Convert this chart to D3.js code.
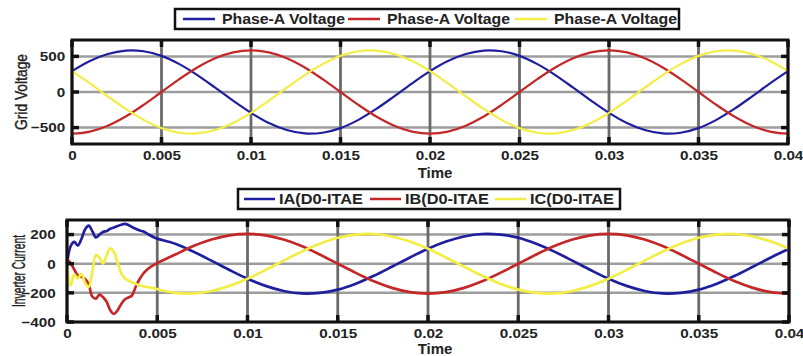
<!DOCTYPE html>
<html>
<head>
<meta charset="utf-8">
<script src="https://cdn.jsdelivr.net/npm/d3@7"></script>
<style>
  html, body { margin: 0; padding: 0; background: #fff; }
  svg { display: block; font-family: "Liberation Sans", Arial, sans-serif; }
</style>
</head>
<body>
<svg id="chart" width="803" height="356"></svg>
<script>
// ---- data ----
const xTicks = [0, 0.005, 0.01, 0.015, 0.02, 0.025, 0.03, 0.035, 0.04];
const voltageTicks = [-500, 0, 500];
const currentTicks = [-400, -200, 0, 200];

const voltageLegend = ["Phase-A Voltage", "Phase-A Voltage", "Phase-A Voltage"];
const currentLegend = ["IA(D0-ITAE", "IB(D0-ITAE", "IC(D0-ITAE"];

const voltageTime = [0, 0.001, 0.002, 0.003, 0.004, 0.005, 0.006, 0.007, 0.008, 0.009,
  0.010, 0.011, 0.012, 0.013, 0.014, 0.015, 0.016, 0.017, 0.018, 0.019,
  0.020, 0.021, 0.022, 0.023, 0.024, 0.025, 0.026, 0.027, 0.028, 0.029,
  0.030, 0.031, 0.032, 0.033, 0.034, 0.035, 0.036, 0.037, 0.038, 0.039, 0.040];

const voltageA = [293, 435, 534, 582, 572, 507, 391, 238, 61, -122,
  -293, -435, -534, -582, -572, -507, -391, -238, -61, 122,
  293, 435, 534, 582, 572, 507, 391, 238, 61, -122,
  -293, -435, -534, -582, -572, -507, -391, -238, -61, 122, 293];
const voltageB = [-585, -556, -473, -344, -181, 0, 181, 344, 473, 556,
  585, 556, 473, 344, 181, 0, -181, -344, -473, -556,
  -585, -556, -473, -344, -181, 0, 181, 344, 473, 556,
  585, 556, 473, 344, 181, 0, -181, -344, -473, -556, -585];
const voltageC = [293, 122, -61, -238, -391, -507, -572, -582, -534, -435,
  -293, -122, 61, 238, 391, 507, 572, 582, 534, 435,
  293, 122, -61, -238, -391, -507, -572, -582, -534, -435,
  -293, -122, 61, 238, 391, 507, 572, 582, 534, 435, 293];

const currentTime = [0, 0.0002, 0.0004, 0.0006, 0.0008, 0.001, 0.0012, 0.0014, 0.0016, 0.0018,
  0.002, 0.0022, 0.0024, 0.0026, 0.0028, 0.003, 0.0032, 0.0034, 0.0036, 0.0038,
  0.004, 0.0042, 0.0044, 0.0046, 0.0048, 0.005,
  0.006, 0.007, 0.008, 0.009, 0.010, 0.011, 0.012, 0.013, 0.014, 0.015,
  0.016, 0.017, 0.018, 0.019, 0.020, 0.021, 0.022, 0.023, 0.024, 0.025,
  0.026, 0.027, 0.028, 0.029, 0.030, 0.031, 0.032, 0.033, 0.034, 0.035,
  0.036, 0.037, 0.038, 0.039, 0.040];

const currentA = [0, 120, 150, 125, 170, 235, 262, 225, 180, 200,
  218, 225, 240, 248, 258, 268, 274, 266, 252, 240,
  230, 222, 210, 195, 182, 172,
  137, 83, 21, -43, -103, -152, -187, -204, -200, -178,
  -137, -83, -21, 43, 103, 152, 187, 204, 200, 178,
  137, 83, 21, -43, -103, -152, -187, -204, -200, -178,
  -137, -83, -21, 43, 103];
const currentB = [30, 5, -40, -80, -90, -105, -140, -225, -240, -212,
  -230, -262, -320, -345, -320, -278, -245, -232, -218, -160,
  -110, -72, -45, -25, -10, 5,
  63, 121, 166, 195, 205, 195, 166, 121, 63, 0,
  -63, -121, -166, -195, -205, -195, -166, -121, -63, 0,
  63, 121, 166, 195, 205, 195, 166, 121, 63, 0,
  -63, -121, -166, -195, -205];
const currentC = [0, -150, -75, -100, -70, -130, -160, -60, 60, 40,
  0, 60, 105, 80, 10, -65, -100, -115, -128, -138,
  -148, -155, -160, -164, -167, -175,
  -200, -204, -187, -152, -103, -43, 21, 83, 137, 178,
  200, 204, 187, 152, 103, 43, -21, -83, -137, -178,
  -200, -204, -187, -152, -103, -43, 21, 83, 137, 178,
  200, 204, 187, 152, 103];

const colors = ["#1f1f9e", "#c42727", "#f2ee45"];

const svg = d3.select("#chart");
const fmt = d3.format("~g");
const FONT = '"Liberation Sans", Arial, sans-serif';

function drawPanel(p) {
  const x = d3.scaleLinear().domain([0, 0.04]).range([p.left, p.right]);
  const y = d3.scaleLinear().domain(p.yDomain).range([p.bottom, p.top]);
  const g = svg.append("g");

  // grid
  g.append("g").selectAll("line").data(p.yTicks).join("line")
    .attr("x1", p.left).attr("x2", p.right)
    .attr("y1", d => y(d)).attr("y2", d => y(d))
    .attr("stroke", "#9d9d9d").attr("stroke-width", 2.5);
  g.append("g").selectAll("line").data(xTicks).join("line")
    .attr("x1", d => x(d)).attr("x2", d => x(d))
    .attr("y1", p.top).attr("y2", p.bottom)
    .attr("stroke", "#6a6a6a").attr("stroke-width", 2.8);

  // curves
  const line = d3.line()
    .x((d, i) => x(p.time[i]))
    .y(d => y(d))
    .curve(d3.curveCatmullRom.alpha(0.5));
  p.series.forEach((s, i) => {
    g.append("path").datum(s)
      .attr("fill", "none")
      .attr("stroke", colors[i])
      .attr("stroke-width", p.lineWidth)
      .attr("stroke-linejoin", "round")
      .attr("d", line);
  });

  // inward ticks
  const tl = 7;
  const tk = g.append("g").attr("stroke", "#111").attr("stroke-width", 3.5);
  xTicks.forEach(d => {
    tk.append("line").attr("x1", x(d)).attr("x2", x(d)).attr("y1", p.top).attr("y2", p.top + tl);
    tk.append("line").attr("x1", x(d)).attr("x2", x(d)).attr("y1", p.bottom).attr("y2", p.bottom - tl);
  });
  p.yTicks.forEach(d => {
    tk.append("line").attr("x1", p.left).attr("x2", p.left + tl).attr("y1", y(d)).attr("y2", y(d));
    tk.append("line").attr("x1", p.right).attr("x2", p.right - tl).attr("y1", y(d)).attr("y2", y(d));
  });

  // box
  g.append("rect")
    .attr("x", p.left).attr("y", p.top)
    .attr("width", p.right - p.left).attr("height", p.bottom - p.top)
    .attr("fill", "none").attr("stroke", "#111").attr("stroke-width", 3);

  // tick labels
  const xa = g.append("g").attr("transform", `translate(0,${p.bottom})`)
    .call(d3.axisBottom(x).tickValues(xTicks).tickFormat(fmt).tickSize(0).tickPadding(6));
  xa.select(".domain").remove();
  const ya = g.append("g").attr("transform", `translate(${p.left},0)`)
    .call(d3.axisLeft(y).tickValues(p.yTicks).tickSize(0).tickPadding(p.yPad));
  ya.select(".domain").remove();
  g.selectAll(".tick text")
    .attr("font-family", FONT).attr("font-size", 13.5).attr("font-weight", "bold")
    .attr("fill", "#222").attr("transform", "scale(1.13,1)");

  // x title
  g.append("text")
    .attr("x", 435).attr("y", p.bottom + p.xTitleDy)
    .attr("text-anchor", "middle")
    .attr("font-family", FONT).attr("font-size", 15).attr("font-weight", "bold").attr("fill", "#222")
    .text("Time");

  // y title
  g.append("text")
    .attr("transform", `translate(${p.yTitleX},${(p.top + p.bottom) / 2}) rotate(-90)`)
    .attr("text-anchor", "middle")
    .attr("font-family", FONT).attr("font-size", p.yTitleSize).attr("fill", "#222")
    .attr("stroke", "#222").attr("stroke-width", 0.4)
    .attr("textLength", p.yTitleLen).attr("lengthAdjust", "spacingAndGlyphs")
    .text(p.yTitle);

  // legend
  const L = p.legend;
  const lg = g.append("g");
  lg.append("rect")
    .attr("x", L.x).attr("y", L.y).attr("width", L.w).attr("height", L.h)
    .attr("fill", "#fff").attr("stroke", "#111").attr("stroke-width", 2.5);
  p.labels.forEach((lab, i) => {
    const ex = L.entries[i];
    lg.append("line")
      .attr("x1", ex).attr("x2", ex + L.lineLen)
      .attr("y1", L.y + L.h / 2).attr("y2", L.y + L.h / 2)
      .attr("stroke", colors[i]).attr("stroke-width", 2.5);
    lg.append("text")
      .attr("x", ex + L.textGap).attr("y", L.y + L.h / 2 + 5)
      .attr("font-family", FONT).attr("font-size", 14).attr("font-weight", "bold").attr("fill", "#222")
      .attr("textLength", L.textLen).attr("lengthAdjust", "spacingAndGlyphs")
      .text(lab);
  });
}

drawPanel({
  left: 72, right: 788, top: 40, bottom: 144,
  yDomain: [-730, 730], yTicks: voltageTicks, yPad: 6,
  time: voltageTime, series: [voltageA, voltageB, voltageC], lineWidth: 2.2,
  yTitle: "Grid Voltage", yTitleX: 27, yTitleLen: 76, yTitleSize: 16.5,
  xTitleDy: 34,
  labels: voltageLegend,
  legend: { x: 175, y: 9, w: 504, h: 20, entries: [183, 348, 515], lineLen: 32, textGap: 39, textLen: 123 }
});

drawPanel({
  left: 67, right: 789, top: 220, bottom: 322,
  yDomain: [-400, 300], yTicks: currentTicks, yPad: 10,
  time: currentTime, series: [currentA, currentB, currentC], lineWidth: 2.7,
  yTitle: "Inverter Current", yTitleX: 25, yTitleLen: 72, yTitleSize: 17.5,
  xTitleDy: 32,
  labels: currentLegend,
  legend: { x: 238, y: 189, w: 382, h: 20, entries: [244, 370, 495], lineLen: 31, textGap: 35, textLen: 84 }
});
</script>
</body>
</html>
